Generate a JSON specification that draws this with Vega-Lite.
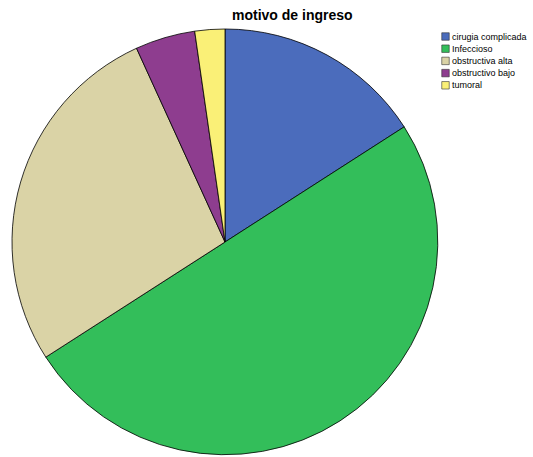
{
  "$schema": "https://vega.github.io/schema/vega-lite/v6.json",
  "autosize": "none",
  "width": 450,
  "height": 424,
  "padding": {"left": 0, "top": 30, "right": 83, "bottom": 3},
  "background": "white",
  "title": {
    "text": "motivo de ingreso",
    "anchor": "start",
    "dx": 232,
    "offset": 4,
    "font": "Liberation Sans",
    "fontSize": 14,
    "fontWeight": "bold",
    "color": "#000"
  },
  "data": {
    "values": [
      {"idx": 1, "motivo": "cirugia complicada", "n": 7},
      {"idx": 2, "motivo": "Infeccioso", "n": 22},
      {"idx": 3, "motivo": "obstructiva alta", "n": 12},
      {"idx": 4, "motivo": "obstructivo bajo", "n": 2},
      {"idx": 5, "motivo": "tumoral", "n": 1}
    ]
  },
  "mark": {"type": "arc", "outerRadius": 213, "stroke": "#000", "strokeWidth": 0.8},
  "encoding": {
    "theta": {"field": "n", "type": "quantitative", "stack": true},
    "order": {"field": "idx", "type": "quantitative"},
    "color": {
      "field": "motivo",
      "type": "nominal",
      "sort": ["cirugia complicada", "Infeccioso", "obstructiva alta", "obstructivo bajo", "tumoral"],
      "scale": {
        "domain": ["cirugia complicada", "Infeccioso", "obstructiva alta", "obstructivo bajo", "tumoral"],
        "range": ["#4B6CBC", "#33BE5A", "#DAD3A6", "#8E3D8F", "#FAF077"]
      },
      "legend": {
        "orient": "none",
        "legendX": 441,
        "legendY": 2,
        "title": null,
        "symbolType": "square",
        "symbolSize": 56,
        "symbolStrokeColor": "#333",
        "symbolStrokeWidth": 0.6,
        "labelFont": "Liberation Sans",
        "labelFontSize": 9,
        "labelColor": "#000",
        "labelOffset": 2,
        "labelLimit": 120,
        "rowPadding": 1.2,
        "padding": 0
      }
    }
  },
  "config": {"view": {"stroke": null}}
}
